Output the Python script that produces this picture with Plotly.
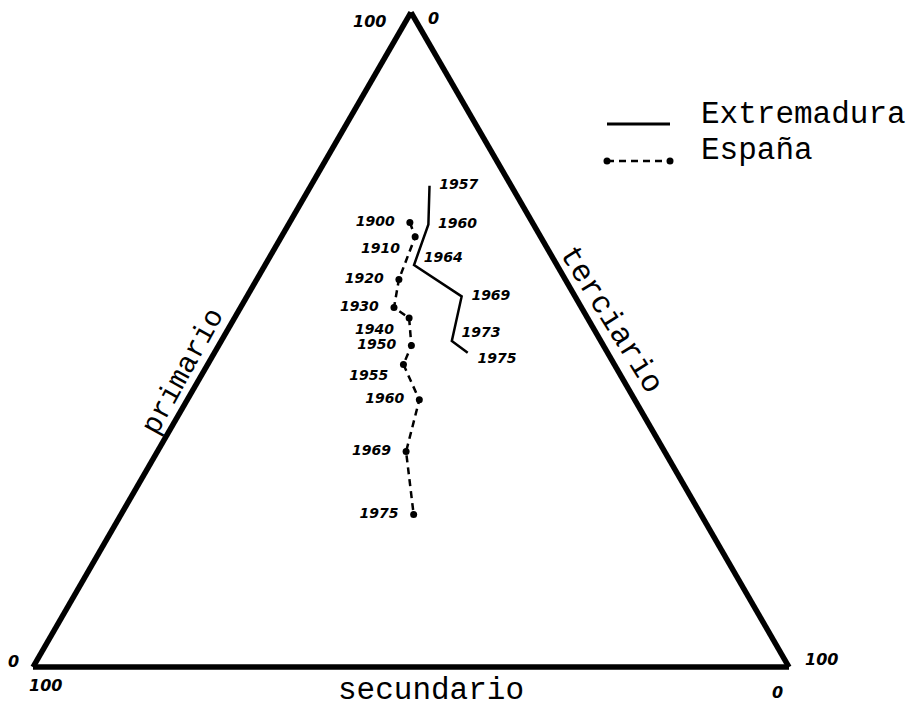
import math
import plotly.graph_objects as go

# Espana: porcentaje de poblacion activa por sector
anios_esp = [1900, 1910, 1920, 1930, 1940, 1950, 1955, 1960, 1969, 1975]
prim_esp = [67.9, 65.7, 59.2, 54.9, 53.3, 49.1, 46.2, 40.8, 32.9, 23.3]
sec_esp = [16.2, 16.6, 22.0, 24.8, 23.6, 25.4, 27.9, 28.5, 34.2, 38.0]
ter_esp = [15.9, 17.7, 18.8, 20.3, 23.1, 25.5, 25.9, 30.7, 32.9, 38.7]

# Extremadura
anios_ext = [1957, 1960, 1964, 1969, 1973, 1975]
prim_ext = [73.5, 67.6, 61.4, 56.6, 49.8, 48.0]
sec_ext = [10.8, 13.9, 18.9, 15.0, 19.7, 18.5]
ter_ext = [15.7, 18.5, 19.7, 28.4, 30.5, 33.5]

W, H = 915, 710
OFF = 8  # margen del body en la pagina
MONO = "Liberation Mono, Courier New, monospace"
HAND = "DejaVu Sans, sans-serif"
DASH = "7px,5px"

# triangulo (pixeles de pantalla)
TRI_L, TRI_R, TRI_BASE = 33, 789, 667
tri_h = (TRI_R - TRI_L) * math.sqrt(3) / 2
vert_a = ((TRI_L + TRI_R) / 2, TRI_BASE - tri_h)
vert_b = (TRI_L, TRI_BASE)
vert_c = (TRI_R, TRI_BASE)


def px(x, y):
    # pixel de pantalla -> coordenadas paper
    return (x - OFF) / W, 1 - (y - OFF) / H


fig = go.Figure()

fig.add_trace(go.Scatterternary(
    a=prim_esp, b=sec_esp, c=ter_esp,
    mode="lines+markers+text",
    text=[str(a) + "  " for a in anios_esp],
    textposition=["middle left", "bottom left", "middle left", "middle left",
                  "bottom left", "middle left", "bottom left", "middle left",
                  "middle left", "middle left"],
    textfont=dict(family=HAND, size=14, color="black", style="italic", weight="bold"),
    line=dict(color="black", width=2.5, dash=DASH),
    marker=dict(color="black", size=7),
    showlegend=False,
))

fig.add_trace(go.Scatterternary(
    a=prim_ext, b=sec_ext, c=ter_ext,
    mode="lines+text",
    text=["  " + str(a) for a in anios_ext],
    textposition=["middle right", "middle right", "top right", "middle right",
                  "top right", "bottom right"],
    textfont=dict(family=HAND, size=14, color="black", style="italic", weight="bold"),
    line=dict(color="black", width=2.5),
    showlegend=False,
))

eje = dict(
    title=dict(text=""),
    showgrid=False,
    linecolor="black",
    linewidth=5.5,
    ticks="",
    showticklabels=False,
    min=0,
)

dx0, dy1 = px(TRI_L, TRI_BASE - tri_h)
dx1, dy0 = px(TRI_R, TRI_BASE)
fig.update_layout(
    width=W, height=H,
    margin=dict(l=0, r=0, t=0, b=0),
    paper_bgcolor="white",
    ternary=dict(
        sum=100,
        bgcolor="white",
        domain=dict(x=[max(0, dx0), min(1, dx1)], y=[max(0, dy0), min(1, dy1)]),
        aaxis=eje, baxis=eje, caxis=eje,
    ),
)

# valores extremos de las escalas en los vertices
marcas = [
    (vert_a, -42, 9, "100"), (vert_a, 22, 6, "0"),
    (vert_b, -20, -6, "0"), (vert_b, 12, 18, "100"),
    (vert_c, 32, -8, "100"), (vert_c, -12, 25, "0"),
]
for (vx, vy), ox, oy, txt in marcas:
    xp, yp = px(vx + ox, vy + oy)
    fig.add_annotation(x=xp, y=yp, xref="paper", yref="paper", text=txt,
                       xanchor="center", yanchor="middle", showarrow=False,
                       font=dict(family=HAND, size=16, color="black",
                                 style="italic", weight="bold"))

# rotulos de los lados
etiquetas = [
    ("primario", 183, 372, -61, 29),
    ("terciario", 611, 319, 58, 31),
    ("secundario", 431, 690, 0, 31),
]
for txt, x, y, ang, sz in etiquetas:
    xp, yp = px(x, y)
    fig.add_annotation(x=xp, y=yp, xref="paper", yref="paper", text=txt,
                       textangle=ang, xanchor="center", yanchor="middle",
                       showarrow=False,
                       font=dict(family=MONO, size=sz, color="black"))

# leyenda
x0, y0 = px(607, 124)
x1, _ = px(670, 124)
fig.add_shape(type="line", xref="paper", yref="paper", x0=x0, y0=y0, x1=x1, y1=y0,
              line=dict(color="black", width=3))
x0, y1 = px(607, 161)
x1, _ = px(670, 161)
fig.add_shape(type="line", xref="paper", yref="paper", x0=x0, y0=y1, x1=x1, y1=y1,
              line=dict(color="black", width=2.5, dash=DASH))
fig.add_trace(go.Scatter(x=[x0, x1], y=[y1, y1], mode="markers",
                         marker=dict(color="black", size=7), showlegend=False,
                         hoverinfo="skip"))
fig.update_layout(
    xaxis=dict(range=[0, 1], visible=False, domain=[0, 1], fixedrange=True),
    yaxis=dict(range=[0, 1], visible=False, domain=[0, 1], fixedrange=True),
    plot_bgcolor="rgba(0,0,0,0)",
)
for txt, y in [("Extremadura", 114), ("España", 151)]:
    xp, yp = px(699, y)
    fig.add_annotation(x=xp, y=yp, xref="paper", yref="paper", text=txt,
                       xanchor="left", yanchor="middle", showarrow=False,
                       font=dict(family=MONO, size=31, color="black"))

fig.write_html("out.html")
